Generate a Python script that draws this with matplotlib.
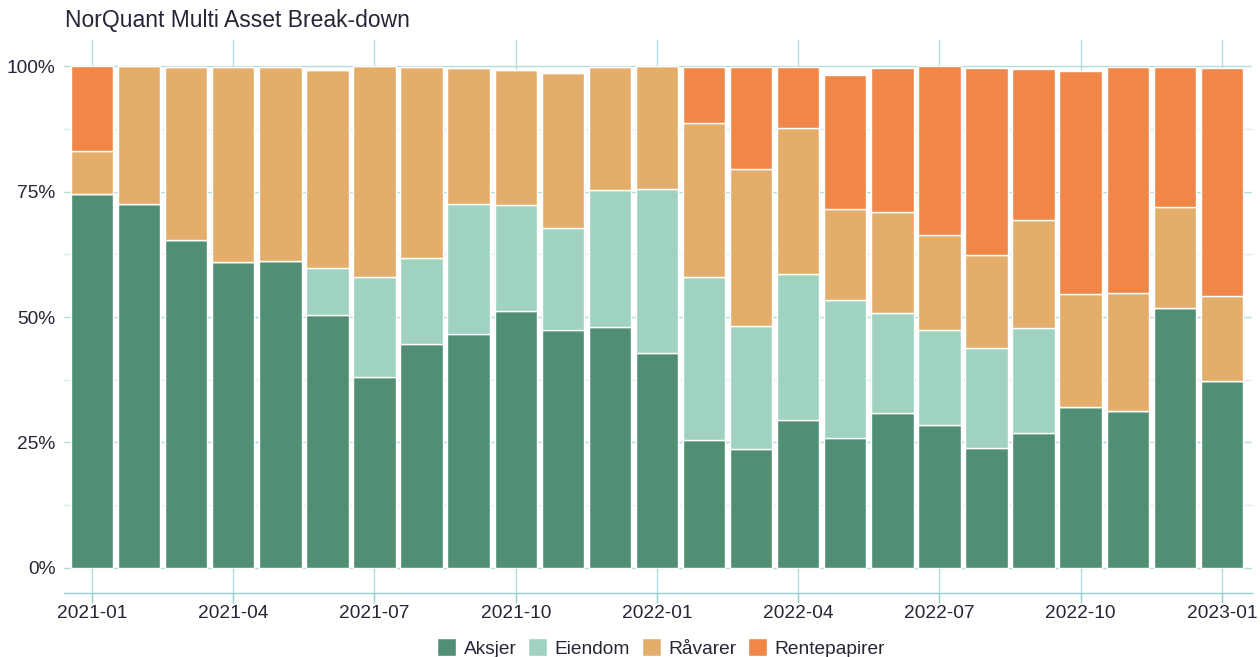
import numpy as np
import matplotlib
matplotlib.use("Agg")
import matplotlib.pyplot as plt
from matplotlib.ticker import MultipleLocator, FuncFormatter

# Data (share of portfolio, %), monthly 2021-01 .. 2023-01
months = ["2021-01", "2021-02", "2021-03", "2021-04", "2021-05", "2021-06",
          "2021-07", "2021-08", "2021-09", "2021-10", "2021-11", "2021-12",
          "2022-01", "2022-02", "2022-03", "2022-04", "2022-05", "2022-06",
          "2022-07", "2022-08", "2022-09", "2022-10", "2022-11", "2022-12",
          "2023-01"]
aksjer = [74.5, 72.5, 65.3, 61.0, 61.2, 50.4, 38.0, 44.6, 46.6, 51.2, 47.4, 48.1,
          42.8, 25.4, 23.7, 29.4, 25.8, 30.8, 28.5, 23.9, 26.8, 32.1, 31.3, 51.7,
          37.3]
eiendom = [0, 0, 0, 0, 0, 9.4, 19.9, 17.1, 26.0, 21.2, 20.4, 27.2,
           32.8, 32.6, 24.6, 29.1, 27.6, 19.9, 19.0, 19.9, 21.1, 0, 0, 0,
           0]
ravarer = [8.6, 27.5, 34.6, 38.9, 38.7, 39.5, 42.1, 38.2, 27.1, 26.9, 30.9, 24.6,
           24.4, 30.6, 31.2, 29.1, 18.1, 20.2, 18.8, 18.6, 21.4, 22.5, 23.4, 20.2,
           16.9]
rente = [16.9, 0, 0, 0, 0, 0, 0, 0, 0, 0, 0, 0,
         0, 11.3, 20.4, 12.3, 26.8, 28.8, 33.7, 37.3, 30.2, 44.5, 45.2, 28.0,
         45.5]

series = [("Aksjer", aksjer, "#508f74"),
          ("Eiendom", eiendom, "#9fd3bf"),
          ("Råvarer", ravarer, "#e3ae6c"),
          ("Rentepapirer", rente, "#f08748")]

TEXT = "#262637"
GRID = "#b3dcdc"
GRID_MINOR = "#dcefef"
AXIS = "#97cfcf"

plt.rcParams['font.family'] = ['Liberation Sans', 'DejaVu Sans']

fig = plt.figure(figsize=(12.6, 6.57), dpi=100)
ax = fig.add_axes([64 / 1260, 1 - 593 / 657, (1252 - 64) / 1260, (593 - 40) / 657])

x = np.arange(len(months))
bottom = np.zeros(len(months))
for name, vals, color in series:
    vals = np.array(vals, dtype=float)
    ax.bar(x, vals, bottom=bottom, width=0.9, color=color, edgecolor="white",
           linewidth=1.0, label=name, zorder=3)
    bottom += vals

ax.set_xlim(-0.595, 24.64)
ax.set_ylim(-5, 105.2)

ax.yaxis.set_minor_locator(MultipleLocator(12.5))
ax.yaxis.set_major_formatter(FuncFormatter(lambda v, p: f"{v:.0f}%"))
ax.set_yticks([0, 25, 50, 75, 100])

tick_pos = x[::3]
ax.set_xticks(tick_pos)
ax.set_xticklabels([months[i] for i in tick_pos])

ax.grid(axis="y", which="major", color=GRID, linewidth=1.0, zorder=0)
ax.grid(axis="y", which="minor", color=GRID_MINOR, linewidth=1.0, zorder=0)
ax.grid(axis="x", which="major", color=GRID, linewidth=1.0, zorder=0)

for s in ["top", "right", "left"]:
    ax.spines[s].set_visible(False)
ax.spines["bottom"].set_color(AXIS)
ax.spines["bottom"].set_linewidth(1.0)

ax.tick_params(axis="x", length=7, width=1.0, color=AXIS, labelsize=13.8,
               labelcolor=TEXT, pad=2)
ax.tick_params(axis="y", which="both", length=0, labelsize=13.8, labelcolor=TEXT, pad=6)

fig.text(65 / 1260, 1 - 21 / 657, "NorQuant Multi Asset Break-down",
         fontsize=16.5, color=TEXT, va="center", ha="left")

fig.legend(loc="center", bbox_to_anchor=(661 / 1260, 1 - 648 / 657), ncol=4,
           frameon=False, handlelength=1.0, handleheight=1.0, columnspacing=0.6,
           handletextpad=0.4, fontsize=13.8, labelcolor=TEXT)

fig.savefig("out.png", dpi=100)
